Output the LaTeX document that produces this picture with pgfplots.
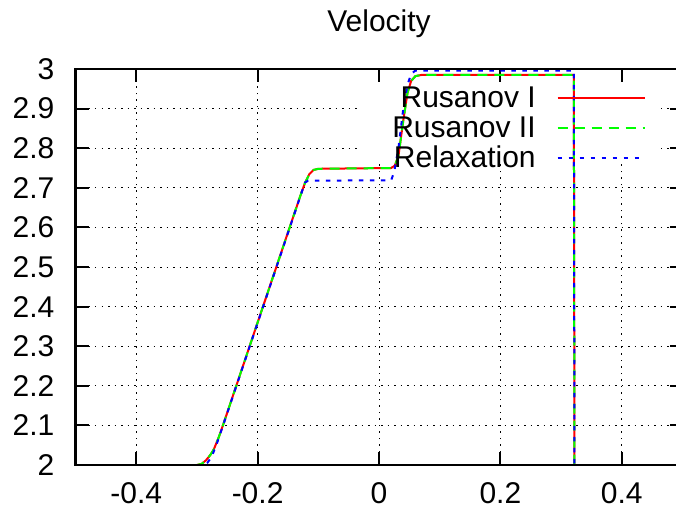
\documentclass[border=0pt]{standalone}
\usepackage{pgfplots}
\pgfplotsset{compat=1.18}
\usepackage{fontspec}
\setmainfont{Liberation Sans}

\begin{document}
\begin{tikzpicture}[font=\fontsize{30}{34}\selectfont]
% page = 676 x 511, axis box lower left at (0,0); right border falls outside (cropped like the original)
\useasboundingbox (-75.5pt,-46pt) rectangle (600.5pt,465pt);
\begin{axis}[
    name=a,
    at={(0,0)}, anchor=south west,
    scale only axis,
    width=607pt, height=396pt,
    xmin=-0.5, xmax=0.5,
    ymin=2, ymax=3,
    xtick={-0.4,-0.2,0,0.2,0.4},
    xticklabels={-0.4,-0.2,0,0.2,0.4},
    ytick={2,2.1,2.2,2.3,2.4,2.5,2.6,2.7,2.8,2.9,3},
    yticklabels={2,2.1,2.2,2.3,2.4,2.5,2.6,2.7,2.8,2.9,3},
    tick align=inside,
    major tick length=13pt,
    tick style={black, line width=2pt},
    axis line style={black, line width=2.2pt},
    xticklabel style={anchor=base, inner sep=0pt, yshift=-38pt, font=\fontsize{30}{34}\selectfont},
    yticklabel style={anchor=east, inner sep=0pt, xshift=-21pt, font=\fontsize{30}{34}\selectfont},
    grid=major,
    major grid style={black, line width=0.8pt, dash pattern=on 1.5pt off 5pt},
    title={Velocity},
    title style={at={(0.5,1)}, anchor=base, inner sep=0pt, yshift=31pt, font=\fontsize{30}{34}\selectfont},
    legend cell align=right,
    legend plot pos=right,
    legend image code/.code={\draw[#1] (0pt,0pt) -- (87pt,0pt);},
    legend style={at={(1,1)}, anchor=north east, xshift=-36.6pt, yshift=-15pt,
        draw=none, fill=none, inner sep=0pt, row sep=2pt, column sep=21pt,
        font=\fontsize{30}{34}\selectfont,
        nodes={inner sep=0pt, text height=23pt, text depth=5pt}},
]

% key background hides the grid, curves stay on top
\fill[white] (axis cs:-0.035,2.76) rectangle (axis cs:0.465,2.965);

% Rusanov I
\addplot[color=red, line width=2pt] coordinates {
    (-0.5,2) (-0.300,2) (-0.292,2.003) (-0.285,2.012) (-0.278,2.025)
    (-0.272,2.040) (-0.264,2.070) (-0.256,2.105) (-0.130,2.678)
    (-0.122,2.712) (-0.115,2.734) (-0.108,2.745) (-0.100,2.748)
    (0.020,2.750) (0.026,2.756) (0.032,2.780) (0.040,2.870)
    (0.047,2.940) (0.053,2.970) (0.060,2.982) (0.070,2.985)
    (0.321,2.985) (0.322,2) (0.5,2)
};
\addlegendentry{Rusanov I}

% Rusanov II
\addplot[color=green, line width=2pt, dash pattern=on 10pt off 7pt] coordinates {
    (-0.5,2) (-0.300,2) (-0.292,2.003) (-0.285,2.012) (-0.278,2.025)
    (-0.272,2.040) (-0.264,2.070) (-0.256,2.105) (-0.130,2.678)
    (-0.122,2.712) (-0.115,2.734) (-0.108,2.745) (-0.100,2.748)
    (0.020,2.750) (0.026,2.756) (0.032,2.780) (0.040,2.870)
    (0.047,2.940) (0.053,2.970) (0.060,2.982) (0.070,2.985)
    (0.321,2.985) (0.322,2) (0.5,2)
};
\addlegendentry{Rusanov II}

% Relaxation
\addplot[color=blue, line width=2pt, dash pattern=on 4.5pt off 6.5pt] coordinates {
    (-0.5,2) (-0.290,2) (-0.283,2.005) (-0.276,2.020) (-0.268,2.050)
    (-0.258,2.095) (-0.122,2.713) (-0.117,2.718) (0.020,2.719)
    (0.025,2.740) (0.032,2.800) (0.040,2.900) (0.047,2.960)
    (0.053,2.988) (0.060,2.996) (0.321,2.996) (0.322,2) (0.5,2)
};
\addlegendentry{Relaxation}

\end{axis}
% border drawn again over the curves, as in the original
\draw[black, line width=2.2pt] (a.north east) -- (a.north west) -- (a.south west) -- (a.south east);
\end{tikzpicture}
\end{document}
